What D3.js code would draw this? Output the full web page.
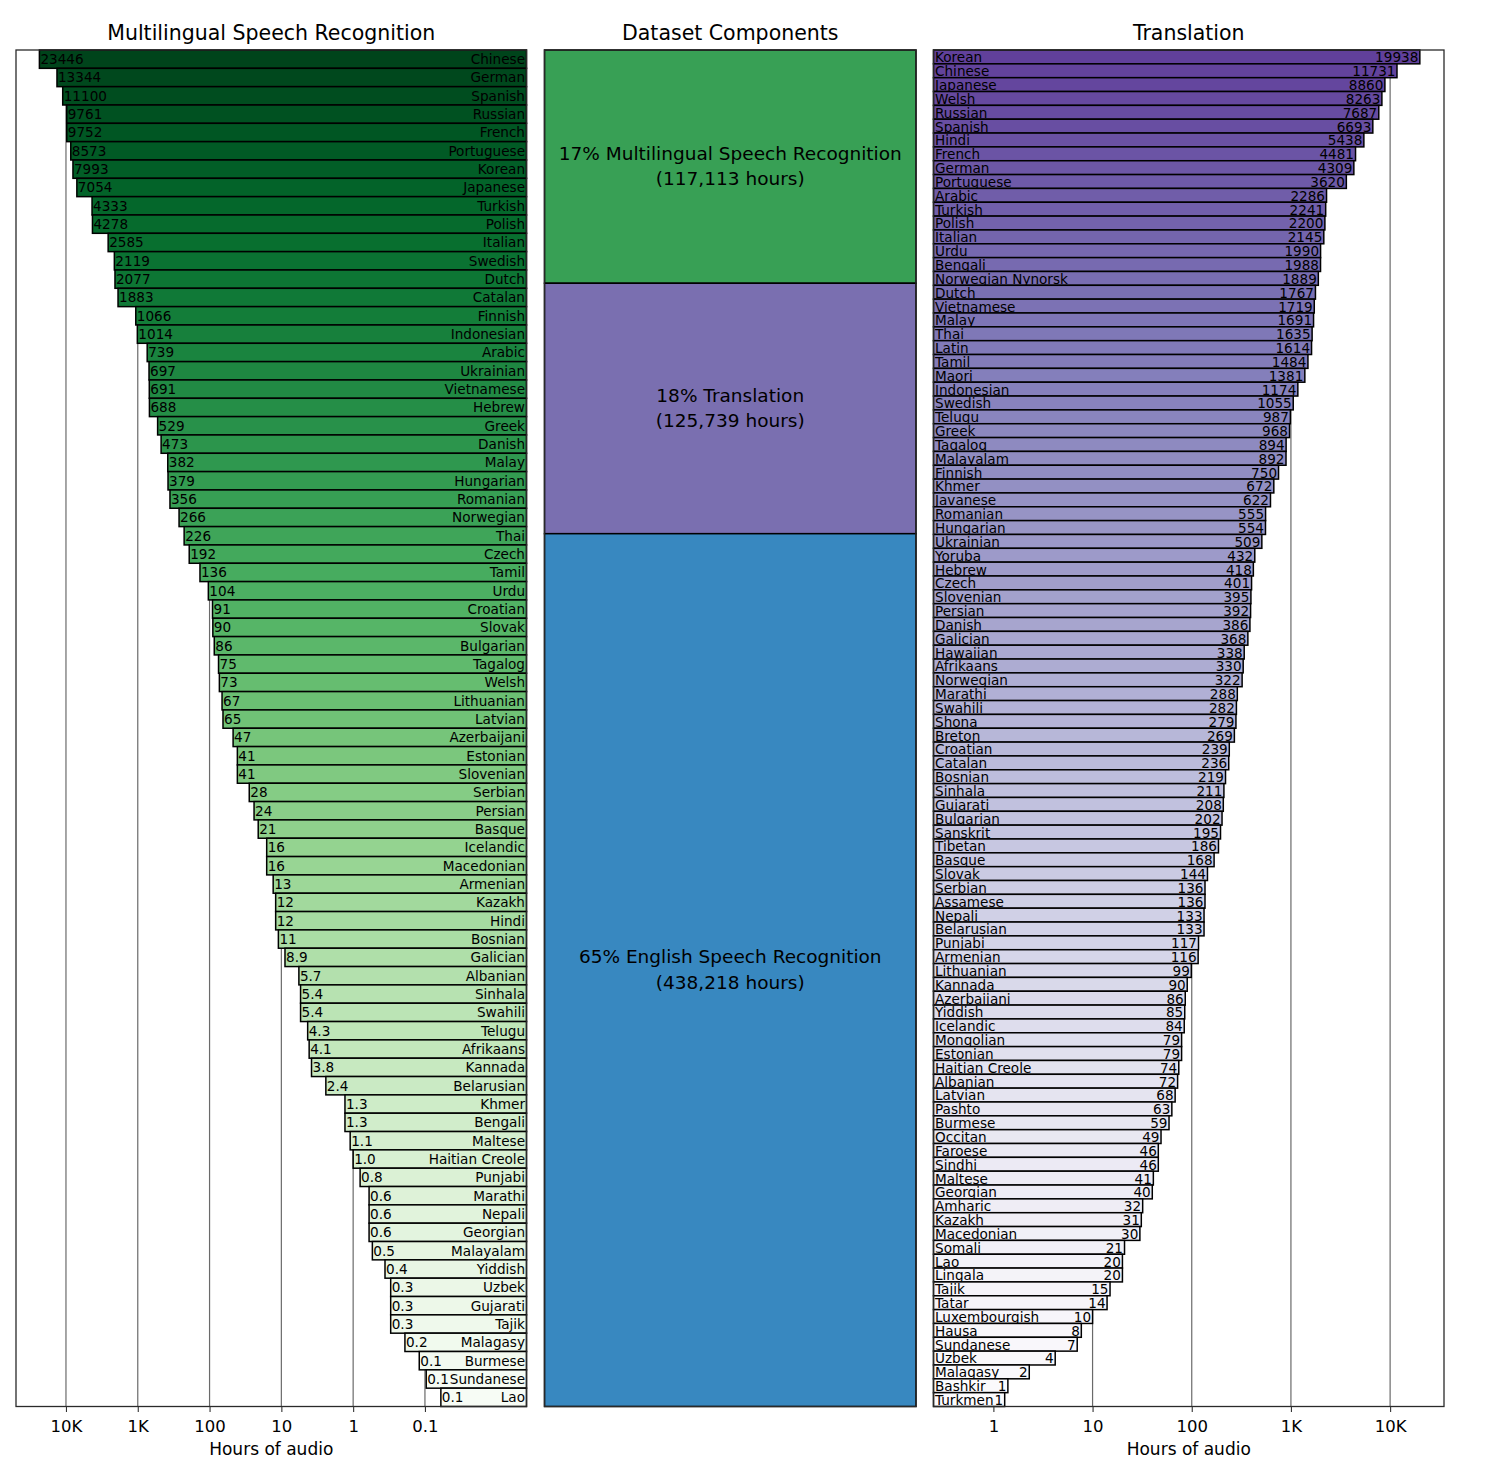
<!DOCTYPE html>
<html>
<head>
<meta charset="utf-8">
<script src="https://cdn.jsdelivr.net/npm/d3@7"></script>
<style>
  html, body { margin: 0; padding: 0; background: #fff; }
  svg { display: block; font-family: "DejaVu Sans", sans-serif; }
</style>
</head>
<body>
<svg id="chart" width="1500" height="1481"></svg>
<script>
// ---------- DATA ----------
const asrLanguages = ["Chinese","German","Spanish","Russian","French","Portuguese","Korean","Japanese","Turkish","Polish","Italian","Swedish","Dutch","Catalan","Finnish","Indonesian","Arabic","Ukrainian","Vietnamese","Hebrew","Greek","Danish","Malay","Hungarian","Romanian","Norwegian","Thai","Czech","Tamil","Urdu","Croatian","Slovak","Bulgarian","Tagalog","Welsh","Lithuanian","Latvian","Azerbaijani","Estonian","Slovenian","Serbian","Persian","Basque","Icelandic","Macedonian","Armenian","Kazakh","Hindi","Bosnian","Galician","Albanian","Sinhala","Swahili","Telugu","Afrikaans","Kannada","Belarusian","Khmer","Bengali","Maltese","Haitian Creole","Punjabi","Marathi","Nepali","Georgian","Malayalam","Yiddish","Uzbek","Gujarati","Tajik","Malagasy","Burmese","Sundanese","Lao"];
const asrHours = [23446,13344,11100,9761,9752,8573,7993,7054,4333,4278,2585,2119,2077,1883,1066,1014,739,697,691,688,529,473,382,379,356,266,226,192,136,104,91,90,86,75,73,67,65,47,41,41,28,24,21,16,16,13,12,12,11,8.9,5.7,5.4,5.4,4.3,4.1,3.8,2.4,1.3,1.3,1.1,1.0,0.8,0.6,0.6,0.6,0.54,0.36,0.30,0.30,0.30,0.19,0.12,0.096,0.06];

const trLanguages = ["Korean","Chinese","Japanese","Welsh","Russian","Spanish","Hindi","French","German","Portuguese","Arabic","Turkish","Polish","Italian","Urdu","Bengali","Norwegian Nynorsk","Dutch","Vietnamese","Malay","Thai","Latin","Tamil","Maori","Indonesian","Swedish","Telugu","Greek","Tagalog","Malayalam","Finnish","Khmer","Javanese","Romanian","Hungarian","Ukrainian","Yoruba","Hebrew","Czech","Slovenian","Persian","Danish","Galician","Hawaiian","Afrikaans","Norwegian","Marathi","Swahili","Shona","Breton","Croatian","Catalan","Bosnian","Sinhala","Gujarati","Bulgarian","Sanskrit","Tibetan","Basque","Slovak","Serbian","Assamese","Nepali","Belarusian","Punjabi","Armenian","Lithuanian","Kannada","Azerbaijani","Yiddish","Icelandic","Mongolian","Estonian","Haitian Creole","Albanian","Latvian","Pashto","Burmese","Occitan","Faroese","Sindhi","Maltese","Georgian","Amharic","Kazakh","Macedonian","Somali","Lao","Lingala","Tajik","Tatar","Luxembourgish","Hausa","Sundanese","Uzbek","Malagasy","Bashkir","Turkmen"];
const trHours = [19938,11731,8860,8263,7687,6693,5438,4481,4309,3620,2286,2241,2200,2145,1990,1988,1889,1767,1719,1691,1635,1614,1484,1381,1174,1055,987,968,894,892,750,672,622,555,554,509,432,418,401,395,392,386,368,338,330,322,288,282,279,269,239,236,219,211,208,202,195,186,168,144,136,136,133,133,117,116,99,90,86,85,84,79,79,74,72,68,63,59,49,46,46,41,40,32,31,30,21,20,20,15,14,10,7.7,7,4.2,2.3,1.4,1.3];

const componentNames = ["Multilingual Speech Recognition","Translation","English Speech Recognition"];
const componentHours = [117113,125739,438218];
const componentPct = [17,18,65];

const asrTickValues = [1e4,1e3,100,10,1,0.1];
const asrTickLabels = ["10K","1K","100","10","1","0.1"];
const trTickValues = [1,10,100,1e3,1e4];
const trTickLabels = ["1","10","100","1K","10K"];

const panelTitles = ["Multilingual Speech Recognition","Dataset Components","Translation"];
const axisLabel = "Hours of audio";

// ---------- LAYOUT ----------
const svg = d3.select("#chart");
const yTop = 50, yBottom = 1406.5;
const L = {x0: 16, x1: 526.5};
const M = {x0: 544.5, x1: 916};
const R = {x0: 933.5, x1: 1444};
const componentColors = ["#38a055","#7a6fb0","#3888c0"];
const labelSize = 13.6;

const fmtAsr = v => v >= 10 ? d3.format("d")(Math.round(v)) : d3.format(".1f")(v);
const fmtTr = v => d3.format("d")(Math.round(v));

// ---------- LEFT PANEL ----------
const xL = d3.scaleLog().domain([49660, 0.00385]).range([L.x0, L.x1]);
const yL = d3.scaleBand().domain(asrLanguages).range([yTop, yBottom]).padding(0);
const gL = svg.append("g");

gL.append("g").selectAll("line").data(asrTickValues).join("line")
  .attr("x1", d => xL(d)).attr("x2", d => xL(d))
  .attr("y1", yTop).attr("y2", yBottom)
  .attr("stroke", "#6a6a6a").attr("stroke-width", 1.2);

const nL = asrLanguages.length;
const barsL = gL.append("g").selectAll("g").data(asrLanguages).join("g");
barsL.append("rect")
  .attr("x", (d, i) => xL(asrHours[i]))
  .attr("y", d => yL(d))
  .attr("width", (d, i) => L.x1 - xL(asrHours[i]))
  .attr("height", yL.bandwidth())
  .attr("fill", (d, i) => d3.interpolateGreens(1 - i / (nL - 1)))
  .attr("stroke", "#000").attr("stroke-width", 1.5);
barsL.append("text")
  .attr("x", (d, i) => xL(asrHours[i]) + 1)
  .attr("y", d => yL(d) + yL.bandwidth() / 2)
  .attr("dy", "0.36em")
  .attr("font-size", labelSize).attr("fill", "#000")
  .text((d, i) => fmtAsr(asrHours[i]));
barsL.append("text")
  .attr("x", L.x1 - 1.5)
  .attr("y", d => yL(d) + yL.bandwidth() / 2)
  .attr("dy", "0.36em")
  .attr("text-anchor", "end")
  .attr("font-size", labelSize).attr("fill", "#000")
  .text(d => d);

// ---------- MIDDLE PANEL ----------
const total = d3.sum(componentHours);
const yM = d3.scaleLinear().domain([0, total]).range([yTop, yBottom]);
const cum = d3.cumsum(componentHours);
const gM = svg.append("g");
const comps = gM.selectAll("g").data(componentNames).join("g");
const segMid = i => (yM(cum[i]) + yM(cum[i] - componentHours[i])) / 2;
comps.append("rect")
  .attr("x", M.x0)
  .attr("y", (d, i) => yM(cum[i] - componentHours[i]))
  .attr("width", M.x1 - M.x0)
  .attr("height", (d, i) => yM(cum[i]) - yM(cum[i] - componentHours[i]))
  .attr("fill", (d, i) => componentColors[i])
  .attr("stroke", "#000").attr("stroke-width", 1.5);
comps.append("text")
  .attr("x", (M.x0 + M.x1) / 2)
  .attr("y", (d, i) => segMid(i) - 6.8)
  .attr("text-anchor", "middle").attr("font-size", 18.5).attr("fill", "#000")
  .text((d, i) => `${componentPct[i]}% ${d}`);
comps.append("text")
  .attr("x", (M.x0 + M.x1) / 2)
  .attr("y", (d, i) => segMid(i) + 18.6)
  .attr("text-anchor", "middle").attr("font-size", 18.5).attr("fill", "#000")
  .text((d, i) => `(${d3.format(",")(componentHours[i])} hours)`);

// ---------- RIGHT PANEL ----------
const xR = d3.scaleLog().domain([0.249, 34940]).range([R.x0, R.x1]);
const yR = d3.scaleBand().domain(trLanguages).range([yTop, yBottom]).padding(0);
const gR = svg.append("g");
gR.append("g").selectAll("line").data(trTickValues).join("line")
  .attr("x1", d => xR(d)).attr("x2", d => xR(d))
  .attr("y1", yTop).attr("y2", yBottom)
  .attr("stroke", "#6a6a6a").attr("stroke-width", 1.2);
const nR = trLanguages.length;
const barsR = gR.append("g").selectAll("g").data(trLanguages).join("g");
barsR.append("rect")
  .attr("x", R.x0)
  .attr("y", d => yR(d))
  .attr("width", (d, i) => xR(trHours[i]) - R.x0)
  .attr("height", yR.bandwidth())
  .attr("fill", (d, i) => d3.interpolatePurples(0.8 * (1 - i / (nR - 1))))
  .attr("stroke", "#000").attr("stroke-width", 1.5);
barsR.append("text")
  .attr("x", R.x0 + 1.5)
  .attr("y", d => yR(d) + yR.bandwidth() / 2)
  .attr("dy", "0.4em")
  .attr("font-size", labelSize).attr("fill", "#000")
  .text(d => d);
barsR.append("text")
  .attr("x", (d, i) => xR(trHours[i]) - 1.5)
  .attr("y", d => yR(d) + yR.bandwidth() / 2)
  .attr("dy", "0.4em")
  .attr("text-anchor", "end")
  .attr("font-size", labelSize).attr("fill", "#000")
  .text((d, i) => fmtTr(trHours[i]));

// ---------- FRAMES, AXES, TITLES ----------
[L, M, R].forEach(p => {
  svg.append("rect").attr("x", p.x0).attr("y", yTop)
    .attr("width", p.x1 - p.x0).attr("height", yBottom - yTop)
    .attr("fill", "none").attr("stroke", "#2a2a2a").attr("stroke-width", 1.3);
});

function drawAxis(scale, values, labels, p) {
  const ax = d3.axisBottom(scale).tickValues(values)
    .tickFormat((d, i) => labels[i]).tickSize(5.5).tickPadding(8.2);
  const g = svg.append("g").attr("transform", `translate(0,${yBottom})`).call(ax);
  g.select(".domain").remove();
  g.selectAll(".tick line").attr("stroke", "#333").attr("stroke-width", 1.1);
  g.selectAll(".tick text").attr("font-size", 16.5).attr("fill", "#000")
    .attr("font-family", "DejaVu Sans, sans-serif");
  svg.append("text").attr("x", (p.x0 + p.x1) / 2).attr("y", 1455)
    .attr("text-anchor", "middle").attr("font-size", 17).attr("fill", "#000")
    .text(axisLabel);
}
drawAxis(xL, asrTickValues, asrTickLabels, L);
drawAxis(xR, trTickValues, trTickLabels, R);

[L, M, R].forEach((p, i) => {
  svg.append("text").attr("x", (p.x0 + p.x1) / 2).attr("y", 40)
    .attr("text-anchor", "middle").attr("font-size", 20.5).attr("fill", "#000")
    .text(panelTitles[i]);
});
</script>
</body>
</html>
